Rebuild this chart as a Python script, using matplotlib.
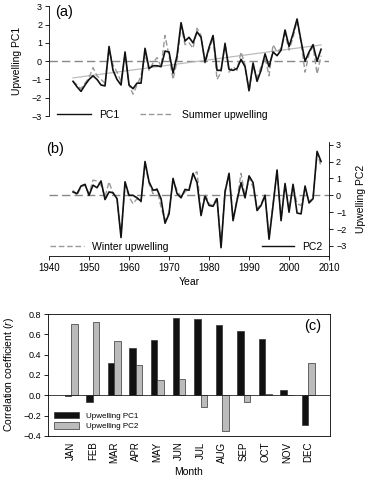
from matplotlib import pyplot as plt
from matplotlib.patches import Patch
from matplotlib.lines import Line2D
import numpy as np

plt.rcParams['font.family'] = ['Liberation Sans', 'DejaVu Sans']
plt.rcParams['mathtext.fontset'] = 'custom'
plt.rcParams['mathtext.it'] = 'Liberation Sans:italic'
plt.rcParams['mathtext.rm'] = 'Liberation Sans'

years = np.arange(1946, 2009)

pc1 = [-1.1, -1.4, -1.65, -1.3, -1.0, -0.8, -1.0, -1.3, -1.35, 0.8,
       -0.5, -1.0, -1.3, 0.5, -1.3, -1.5, -1.2, -1.2, 0.7, -0.4,
       -0.25, -0.25, -0.3, 0.55, 0.5, -0.65, 0.3, 2.1, 1.1, 1.3,
       1.0, 1.6, 1.3, -0.05, 0.75, 1.4, -0.5, -0.5, 0.95, -0.45,
       -0.5, -0.4, 0.1, -0.3, -1.6, -0.1, -1.1, -0.5, 0.4, -0.3,
       0.5, 0.3, 0.6, 1.7, 0.8, 1.5, 2.3, 1.1, 0.0, 0.5,
       0.9, 0.0, 0.65]
summer = [-1.1, -1.3, -1.5, -1.2, -0.9, -0.35, -0.8, -1.0, -1.2, 0.6,
          -0.2, -0.6, -1.1, 0.3, -1.3, -1.8, -1.3, -0.8, 0.4, -0.5,
          -0.1, 0.2, -0.3, 1.4, 0.3, -1.0, 0.0, 1.9, 0.9, 1.0,
          0.7, 1.8, 1.4, -0.1, 0.6, 1.3, -1.0, -0.6, 1.0, -0.6,
          -0.3, -0.5, 0.5, -0.2, -1.7, -0.3, -0.9, -0.3, 0.2, -0.8,
          0.9, 0.5, 0.7, 1.5, 0.6, 1.3, 2.2, 1.0, -0.6, 0.4,
          0.8, -0.7, 0.3]
pc2 = [0.2, 0.1, 0.55, 0.65, 0.0, 0.6, 0.45, 0.85, -0.25, 0.2,
       0.15, -0.2, -2.5, 0.8, 0.0, 0.0, -0.15, -0.35, 2.0, 0.8,
       0.3, 0.35, -0.2, -1.65, -1.1, 1.0, 0.1, -0.15, 0.35, 0.3,
       1.3, 0.75, -1.2, -0.05, -0.6, -0.65, -0.2, -3.1, 0.2, 1.3,
       -1.5, -0.3, 0.75, -0.15, 1.15, 0.75, -0.9, -0.6, 0.0, -2.6,
       -0.6, 1.5, -1.5, 0.7, -1.0, 0.65, -1.05, -1.1, 0.55, -0.45,
       -0.2, 2.6, 2.0]
winter = [0.3, 0.0, 0.5, 0.6, 0.1, 0.9, 0.85, 0.6, -0.1, 0.8,
          0.1, -0.2, -2.3, 0.6, -0.1, -0.5, -0.2, -0.4, 1.9, 0.7,
          0.1, 0.4, -0.7, -1.5, -1.0, 0.9, 0.3, -0.1, 0.2, 0.4,
          1.2, 1.4, -1.1, 0.1, -0.5, -0.6, -0.1, -3.0, 0.3, 1.2,
          -1.4, -0.2, 1.3, -0.1, 1.0, 0.5, -0.8, -0.5, 0.0, -2.5,
          -0.5, 1.4, -1.4, 0.6, -0.8, 0.6, -0.5, -0.6, 0.4, -0.4,
          -0.1, 2.5, 1.7]

months = ['JAN', 'FEB', 'MAR', 'APR', 'MAY', 'JUN', 'JUL', 'AUG', 'SEP', 'OCT', 'NOV', 'DEC']
r_pc1 = [-0.01, -0.07, 0.32, 0.47, 0.54, 0.76, 0.75, 0.69, 0.63, 0.55, 0.05, -0.29]
r_pc2 = [0.70, 0.72, 0.53, 0.30, 0.15, 0.16, -0.11, -0.35, -0.07, 0.01, 0.005, 0.32]

fig = plt.figure(figsize=(3.68, 4.86), dpi=100)
tfs = 6.5
lfs = 7.5

# (a)
ax1 = fig.add_axes([0.1332, 0.761, 0.761, 0.2263])
ax1.axhline(0, color='#888888', lw=1.0, dashes=(6, 3))
slope, icpt = np.polyfit(years, pc1, 1)
ax1.plot(years, slope * years + icpt, color='#bbbbbb', lw=0.9)
ax1.plot(years, summer, color='#999999', lw=1.0, dashes=(4, 2))
ax1.plot(years, pc1, color='#111111', lw=1.2)
ax1.set_xlim(1940, 2010)
ax1.set_ylim(-3, 3)
ax1.set_yticks(range(-3, 4))
for s in ['top', 'right', 'bottom']:
    ax1.spines[s].set_visible(False)
ax1.spines['left'].set_linewidth(0.6)
ax1.set_xticks([])
ax1.tick_params(axis='y', direction='out', length=3, width=0.6, labelsize=tfs, pad=2)
ax1.set_ylabel('Upwelling PC1', fontsize=lfs, labelpad=7)
ax1.text(1941.5, 3.05, '(a)', fontsize=10.5, va='top', ha='left')
h1 = [Line2D([], [], color='#111111', lw=1.0), Line2D([], [], color='#999999', lw=1.0, dashes=(4, 2))]
ax1.legend(h1, ['PC1', 'Summer upwelling'], loc='lower left', ncol=2, frameon=False,
           fontsize=lfs, handlelength=3.2, columnspacing=2.0, borderaxespad=0.0,
           bbox_to_anchor=(0.015, -0.07))

# (b)
ax2 = fig.add_axes([0.1332, 0.473, 0.761, 0.2346])
ax2.axhline(0, color='#888888', lw=1.0, dashes=(6, 3))
ax2.plot(years, winter, color='#999999', lw=1.0, dashes=(4, 2))
ax2.plot(years, pc2, color='#111111', lw=1.2)
ax2.set_xlim(1940, 2010)
ax2.set_ylim(-3.6, 3.15)
ax2.set_yticks(range(-3, 4))
ax2.set_xticks(range(1940, 2011, 10))
for s in ['top', 'left']:
    ax2.spines[s].set_visible(False)
for s in ['right', 'bottom']:
    ax2.spines[s].set_linewidth(0.6)
ax2.yaxis.tick_right()
ax2.yaxis.set_label_position('right')
ax2.tick_params(direction='out', length=3, width=0.6, labelsize=tfs, pad=2)
ax2.tick_params(axis='x', labelsize=7)
ax2.set_ylabel('Upwelling PC2', fontsize=lfs, labelpad=7)
ax2.set_xlabel('Year', fontsize=lfs, labelpad=3)
ax2.text(1939.3, 3.15, '(b)', fontsize=10.5, va='top', ha='left', clip_on=False)
lg1 = ax2.legend([Line2D([], [], color='#999999', lw=1.0, dashes=(4, 2))], ['Winter upwelling'],
                 loc='lower left', frameon=False, fontsize=lfs, handlelength=3.2,
                 borderaxespad=0.0, bbox_to_anchor=(-0.01, 0.0))
ax2.add_artist(lg1)
ax2.legend([Line2D([], [], color='#111111', lw=1.0)], ['PC2'], loc='lower right', frameon=False,
           fontsize=lfs, handlelength=3.0, borderaxespad=0.0, bbox_to_anchor=(0.99, 0.0))

# (c)
ax3 = fig.add_axes([0.1304, 0.1029, 0.766, 0.251])
x = np.arange(len(months))
w = 0.3
ax3.bar(x - w / 2, r_pc1, w, color='#111111', edgecolor='#333333', lw=0.5, label='Upwelling PC1')
ax3.bar(x + w / 2, r_pc2, w, color='#bbbbbb', edgecolor='#333333', lw=0.5, label='Upwelling PC2')
ax3.axhline(0, color='#222222', lw=0.6)
ax3.set_xlim(-1.08, 12.0)
ax3.set_ylim(-0.4, 0.8)
yt = np.arange(-0.4, 0.81, 0.2)
ax3.set_yticks(yt)
ax3.set_yticklabels([('%.1f' % v).replace('-', '\u2212') if abs(v) > 1e-9 else '0.0' for v in yt])
ax3.set_xticks(x)
ax3.set_xticklabels(months, rotation=90)
for s in ax3.spines.values():
    s.set_linewidth(0.6)
ax3.tick_params(direction='out', length=3, width=0.6, labelsize=tfs, pad=2)
ax3.tick_params(axis='x', length=0, labelsize=7, pad=4)
ax3.set_ylabel('Correlation coefficient ($\\it{r}$)', fontsize=lfs, labelpad=5)
ax3.set_xlabel('Month', fontsize=lfs, labelpad=3)
ax3.text(11.6, 0.75, '(c)', fontsize=10.5, va='top', ha='right')
h3 = [Patch(facecolor='#111111', edgecolor='#333333', lw=0.5),
      Patch(facecolor='#bbbbbb', edgecolor='#333333', lw=0.5)]
ax3.legend(h3, ['Upwelling PC1', 'Upwelling PC2'], loc='lower left', frameon=False, fontsize=5.8,
           handlelength=3.2, handleheight=0.9, labelspacing=0.3, borderaxespad=0.3)

plt.savefig('out.png', dpi=100)
